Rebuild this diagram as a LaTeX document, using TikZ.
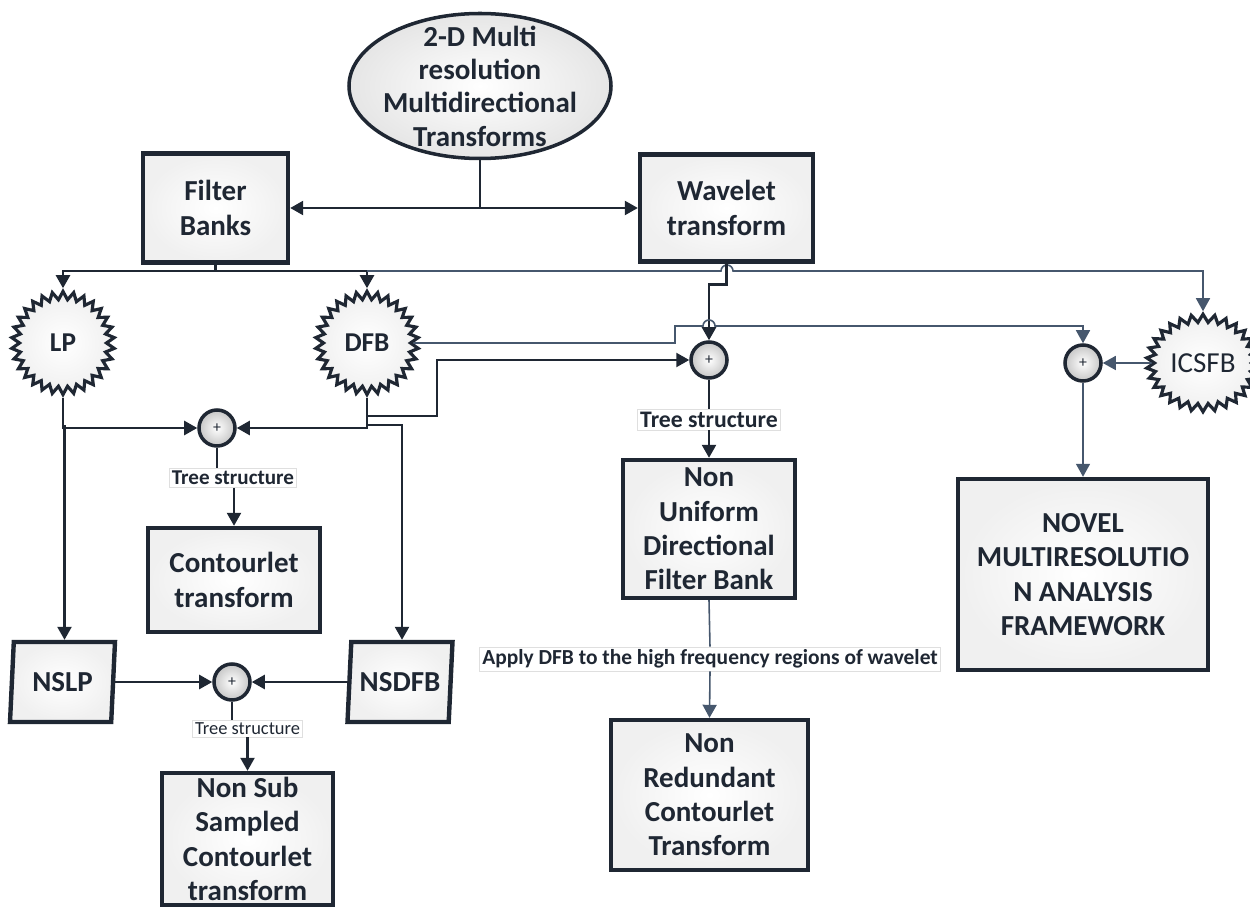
\documentclass[tikz,border=0pt]{standalone}
\usepackage{fontspec}
\setmainfont{Carlito}
\usetikzlibrary{shapes.geometric}
\usetikzlibrary{shapes.symbols}
\usetikzlibrary{arrows.meta}
\definecolor{ink}{HTML}{1F2733}
\definecolor{slate}{HTML}{46576D}

\begin{document}
\begin{tikzpicture}[x=0.2mm,y=-0.2mm,
	>={Triangle[length=2.6mm,width=2.8mm]},
	box/.style={rectangle,draw=ink,line width=2.5pt,inner color=white,outer color=gray!12,align=center,inner sep=1pt,text=ink,font=\bfseries\fontsize{16.5}{19.5}\selectfont},
	burst/.style={starburst,starburst points=30,starburst point height=0.16cm,random starburst=0,draw=ink,line width=1.8pt,inner color=white,outer color=gray!12,minimum size=2.06cm,inner sep=1pt,text=ink,font=\bfseries\fontsize{15.5}{18}\selectfont},
	adder/.style={circle,draw=ink,line width=2pt,inner color=white,outer color=gray!45,minimum size=0.72cm,inner sep=0pt,text=ink,font=\fontsize{9}{9}\selectfont},
	skewbox/.style={trapezium,trapezium left angle=83,trapezium right angle=97,trapezium stretches body,draw=ink,line width=2.5pt,inner color=white,outer color=gray!12,minimum width=2.1cm,minimum height=1.6cm,inner xsep=0pt,text=ink,font=\bfseries\fontsize{16.5}{18}\selectfont},
	tag/.style={rectangle,draw=gray!25,line width=0.4pt,fill=white,inner sep=1.5pt,text=ink},
	link/.style={draw=ink,line width=1.4pt},
	thin link/.style={draw=slate,line width=0.9pt}]
	\useasboundingbox (0,0) rectangle (1250,908);

	% top level
	\node [ellipse,draw=ink,line width=2pt,inner color=white,outer color=gray!20,minimum width=5.24cm,minimum height=2.9cm,inner sep=-1cm,align=center,text=ink,font=\bfseries\fontsize{16.5}{19}\selectfont] (src) at (480,86) {2-D Multi\\resolution\\Multidirectional\\Transforms};
	\node [box,minimum width=2.9cm,minimum height=2.18cm] (fb) at (215.5,208) {Filter\\Banks};
	\node [box,minimum width=3.46cm,minimum height=2.14cm] (wt) at (726.5,208) {Wavelet\\transform};

	% filters
	\node [burst] (lp) at (63,343) {LP};
	\node [burst] (dfb) at (367,343) {DFB};
	\node [burst,minimum size=1.95cm,font=\fontsize{16.5}{18}\selectfont] (icsfb) at (1203,363) {ICSFB};

	% adders
	\node [adder] (sum1) at (217,428) {+};
	\node [adder] (sum2) at (232,682) {+};
	\node [adder] (sum3) at (709,360) {+};
	\node [adder] (sum4) at (1083,363) {+};

	% results
	\node [box,minimum width=3.44cm,minimum height=2.08cm] (ct) at (234,580) {Contourlet\\transform};
	\node [skewbox] (nslp) at (62.5,682) {NSLP};
	\node [skewbox] (nsdfb) at (400,682) {NSDFB};
	\node [box,minimum width=3.42cm,minimum height=2.64cm] (nsct) at (247.5,839) {Non Sub\\Sampled\\Contourlet\\transform};
	\node [box,minimum width=3.44cm,minimum height=2.76cm] (nudfb) at (709,529) {Non\\Uniform\\Directional\\Filter Bank};
	\node [box,minimum width=3.94cm,minimum height=3cm] (nrct) at (709.5,795) {Non\\Redundant\\Contourlet\\Transform};
	\node [box,minimum width=5cm,minimum height=3.82cm] (novel) at (1083,574.5) {NOVEL\\MULTIRESOLUTIO\\N ANALYSIS\\FRAMEWORK};

	% labels on links
	\node [tag,font=\bfseries\fontsize{12}{12}\selectfont] (tree1) at (233,478) {Tree structure};
	\node [tag,font=\fontsize{10.5}{10.5}\selectfont] (tree2) at (247.5,728.5) {Tree structure};
	\node [tag,font=\bfseries\fontsize{13.5}{13.5}\selectfont] (tree3) at (709,419.5) {Tree structure};
	\node [tag,font=\bfseries\fontsize{12.2}{12.2}\selectfont] (apply) at (710,659) {Apply DFB to the high frequency regions of wavelet};

	% source to banks
	\draw [link] (src.south) -- (src.south |- fb.east);
	\draw [link,<->] (fb.east) -- (wt.west);

	% filter banks feed
	\coordinate (fbj) at (215.5,271);
	\draw [link] (fb.south) -- (fbj);
	\draw [link,->] (fbj) -| (lp.north);
	\draw [link,->] (fbj) -| (dfb.north);
	\draw [thin link,->] (dfb.north |- fbj) -- (721,271) arc [start angle=180,end angle=0,radius=1.2mm] -| (icsfb.north);

	% wavelet branch
	\draw [link,->] (wt.south) -- ++(0,21) -| (sum3.north);
	\draw [thin link,->] (dfb.east) -- (675,343) |- (703,326) arc [start angle=180,end angle=0,radius=1.2mm] -| (sum4.north);
	\draw [link,->] (dfb.south) -- ++(0,18) -| (437,360) -- (sum3.west);

	% contourlet
	\draw [link,->] (dfb.south) |- (sum1.east);
	\draw [link,->] (lp.south) |- (sum1.west);
	\draw [link] (sum1.south) -- (sum1.south |- tree1.north);
	\draw [link,->] (tree1.south -| ct.north) -- (ct.north);

	% non sub sampled
	\draw [link,->] (lp.south) -- ++(0,28) -| (nslp.top side);
	\draw [link,->] (dfb.south) -- ++(0,27) -| (nsdfb.top side);
	\draw [link,->] (nslp.right side) -- (sum2.west);
	\draw [link,->] (nsdfb.left side) -- (sum2.east);
	\draw [link] (sum2.south) -- (sum2.south |- tree2.north);
	\draw [link,->] (tree2.south -| nsct.north) -- (nsct.north);

	% non uniform and non redundant
	\draw [link] (sum3.south) -- (tree3.north);
	\draw [link,->] (tree3.south) -- (nudfb.north);
	\draw [thin link] (nudfb.south) -- (apply.north);
	\draw [thin link,->] (apply.south) -- (nrct.north);

	% novel framework
	\draw [thin link,->] (icsfb.west) -- (sum4.east);
	\draw [thin link,->] (sum4.south) -- (novel.north);
\end{tikzpicture}
\end{document}
